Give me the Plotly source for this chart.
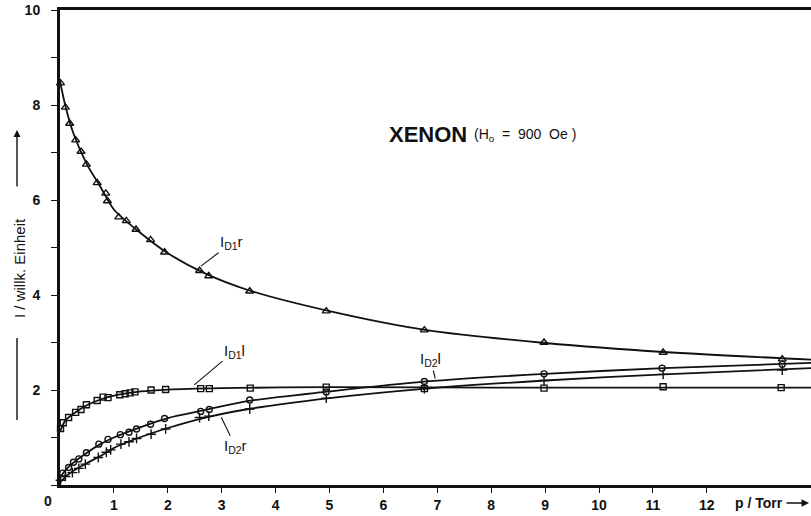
import plotly.graph_objects as go

# Measured intensities (arbitrary units) versus pressure p in Torr
d1r_p = [0.01, 0.10, 0.18, 0.29, 0.39, 0.49, 0.69, 0.85, 0.88, 1.09, 1.23, 1.41, 1.68, 1.94, 2.59, 2.76, 3.52, 4.94, 6.76, 8.98, 11.19, 13.40]
d1r_i = [8.46, 7.95, 7.61, 7.26, 7.02, 6.75, 6.36, 6.14, 5.98, 5.64, 5.56, 5.38, 5.16, 4.90, 4.51, 4.40, 4.08, 3.66, 3.26, 3.00, 2.79, 2.65]

d1l_p = [0.01, 0.06, 0.16, 0.29, 0.39, 0.49, 0.69, 0.80, 0.89, 1.11, 1.21, 1.30, 1.39, 1.69, 1.96, 2.61, 2.77, 3.53, 4.94, 6.76, 8.98, 11.19, 13.38]
d1l_i = [1.19, 1.31, 1.42, 1.53, 1.59, 1.69, 1.78, 1.85, 1.84, 1.90, 1.92, 1.94, 1.96, 2.00, 2.01, 2.03, 2.03, 2.04, 2.06, 2.03, 2.04, 2.07, 2.05]

d2l_p = [0.05, 0.16, 0.25, 0.35, 0.49, 0.72, 0.89, 1.12, 1.28, 1.42, 1.68, 1.94, 2.61, 2.77, 3.52, 4.94, 6.76, 8.98, 11.17, 13.40]
d2l_i = [0.25, 0.37, 0.48, 0.55, 0.68, 0.86, 0.96, 1.06, 1.11, 1.18, 1.28, 1.40, 1.55, 1.59, 1.79, 1.96, 2.18, 2.34, 2.46, 2.54]

d2r_p = [0.01, 0.10, 0.23, 0.35, 0.47, 0.71, 0.86, 0.94, 1.13, 1.28, 1.42, 1.69, 1.96, 2.59, 2.76, 3.52, 4.94, 6.76, 8.98, 11.19, 13.40]
d2r_i = [0.10, 0.18, 0.26, 0.35, 0.44, 0.58, 0.69, 0.74, 0.86, 0.91, 0.98, 1.07, 1.18, 1.42, 1.45, 1.60, 1.83, 2.03, 2.20, 2.33, 2.42]

# Smooth fitted curves through the measurements
fit_p = [0, 0.1, 0.25, 0.5, 0.75, 1.0, 1.5, 2.0, 2.7, 3.5, 5.0, 6.8, 9.0, 11.2, 13.94]
d1r_fit = [8.5, 7.98, 7.4, 6.75, 6.28, 5.8, 5.3, 4.88, 4.45, 4.1, 3.66, 3.26, 2.99, 2.8, 2.64]
d2l_fit = [0.15, 0.31, 0.47, 0.68, 0.86, 1.0, 1.22, 1.41, 1.58, 1.77, 1.97, 2.18, 2.34, 2.46, 2.57]
d2r_fit = [0.05, 0.17, 0.3, 0.46, 0.61, 0.78, 1.01, 1.2, 1.42, 1.6, 1.83, 2.03, 2.2, 2.33, 2.46]
d1l_fit_p = [0, 0.1, 0.3, 0.5, 0.75, 1.0, 1.5, 2.0, 3.0, 5.0, 8.0, 13.94]
d1l_fit = [1.12, 1.36, 1.54, 1.68, 1.8, 1.88, 1.97, 2.01, 2.04, 2.06, 2.05, 2.05]

x_ticks = list(range(1, 13))
y_ticks = list(range(0, 11))
y_ticktext = [str(v) if v % 2 == 0 and v > 0 else "" for v in y_ticks]

FONT = "Liberation Sans"
INK = "#111111"
NB = "\u00a0"

fig = go.Figure()

curves = [
    (fit_p, d1r_fit),
    (d1l_fit_p, d1l_fit),
    (fit_p, d2l_fit),
    (fit_p, d2r_fit),
]
for cx, cy in curves:
    fig.add_trace(go.Scatter(
        x=cx, y=cy, mode="lines",
        line=dict(color=INK, width=1.8, shape="spline", smoothing=0.8),
        hoverinfo="skip", showlegend=False,
    ))

markers = [
    (d1r_p, d1r_i, "triangle-up-open", 7),
    (d1l_p, d1l_i, "square-open", 6),
    (d2l_p, d2l_i, "circle-open", 6),
    (d2r_p, d2r_i, "cross-thin-open", 7),
]
for mx, my, sym, size in markers:
    fig.add_trace(go.Scatter(
        x=mx, y=my, mode="markers",
        marker=dict(symbol=sym, size=size, color=INK, line=dict(color=INK, width=1.4)),
        cliponaxis=False, showlegend=False,
    ))

fig.update_xaxes(
    range=[0, 751 / 53.9],
    tickvals=x_ticks, ticktext=[str(v) for v in x_ticks],
    ticks="outside", ticklen=5, tickwidth=1.2, tickcolor=INK,
    showline=True, linecolor=INK, linewidth=2.5, mirror=True,
    showgrid=False, zeroline=False,
    tickfont=dict(family=FONT, size=14, color=INK, weight="bold"),
)
fig.update_yaxes(
    range=[0, 10],
    tickvals=y_ticks, ticktext=y_ticktext,
    ticks="outside", ticklen=6, tickwidth=1.2, tickcolor=INK,
    showline=True, linecolor=INK, linewidth=3,
    showgrid=False, zeroline=False,
    ticklabelstandoff=8,
    tickfont=dict(family=FONT, size=14, color=INK, weight="bold"),
)

label_font = dict(family=FONT, size=15, color=INK)
arrow_kw = dict(showarrow=True, arrowhead=0, arrowwidth=1.1, arrowcolor=INK,
                font=label_font, xanchor="center", yanchor="middle")
# Curve labels with leader lines
fig.add_annotation(x=2.57, y=4.57, ax=33, ay=-25, text="I<sub>D1</sub>r", standoff=3, **arrow_kw)
fig.add_annotation(x=2.42, y=2.04, ax=44, ay=-37, text="I<sub>D1</sub>l", standoff=5, **arrow_kw)
fig.add_annotation(x=2.96, y=1.50, ax=16, ay=33, text="I<sub>D2</sub>r", standoff=4, **arrow_kw)
fig.add_annotation(x=6.97, y=2.20, ax=-5, ay=-21, text="I<sub>D2</sub>l", standoff=2, **arrow_kw)

# Title inside the plot
fig.add_annotation(x=6.06, y=7.37, text="<b>XENON</b>", showarrow=False,
                   xanchor="left", yanchor="middle",
                   font=dict(family=FONT, size=22, color=INK))
fig.add_annotation(x=7.64, y=7.37,
                   text="(H<sub>o</sub>" + NB * 2 + "=" + NB * 2 + "900" + NB * 2 + "Oe" + NB + ")",
                   showarrow=False, xanchor="left", yanchor="middle",
                   font=dict(family=FONT, size=14, color=INK))

# Origin label
fig.add_annotation(xref="paper", yref="paper", x=(48 - 60) / 751, y=(485 - 501) / 475,
                   text="<b>0</b>", showarrow=False, xanchor="center", yanchor="middle",
                   font=dict(family=FONT, size=14, color=INK))

# x-axis title with arrow
fig.add_annotation(xref="paper", yref="paper", x=(733 - 60) / 751, y=(485 - 503) / 475,
                   text="<b>p / Torr</b>", showarrow=False, xanchor="left", yanchor="middle",
                   font=dict(family=FONT, size=14, color=INK))
fig.add_annotation(xref="paper", yref="paper", x=(809 - 60) / 751, y=(485 - 503) / 475,
                   ax=-24, ay=0, text="", showarrow=True, arrowhead=2, arrowsize=1,
                   arrowwidth=1.5, arrowcolor=INK)

# y-axis title: rotated text between a plain rule and an arrow
fig.add_annotation(xref="paper", yref="paper", x=(19 - 60) / 751, y=(485 - 268) / 475,
                   text="I" + NB + "/" + NB + "willk. Einheit", textangle=-90, showarrow=False,
                   xanchor="center", yanchor="middle",
                   font=dict(family=FONT, size=15, color=INK))
fig.add_shape(type="line", xref="paper", yref="paper",
              x0=(17 - 60) / 751, x1=(17 - 60) / 751,
              y0=(485 - 338) / 475, y1=(485 - 420) / 475,
              line=dict(color=INK, width=1.4))
fig.add_annotation(xref="paper", yref="paper", x=(17 - 60) / 751, y=(485 - 130) / 475,
                   ax=0, ay=58, text="", showarrow=True, arrowhead=2, arrowsize=1,
                   arrowwidth=1.4, arrowcolor=INK)

fig.update_layout(
    width=811, height=516,
    margin=dict(l=60, r=0, t=10, b=31),
    paper_bgcolor="white", plot_bgcolor="white",
    showlegend=False,
)

fig.write_html("out.html")
